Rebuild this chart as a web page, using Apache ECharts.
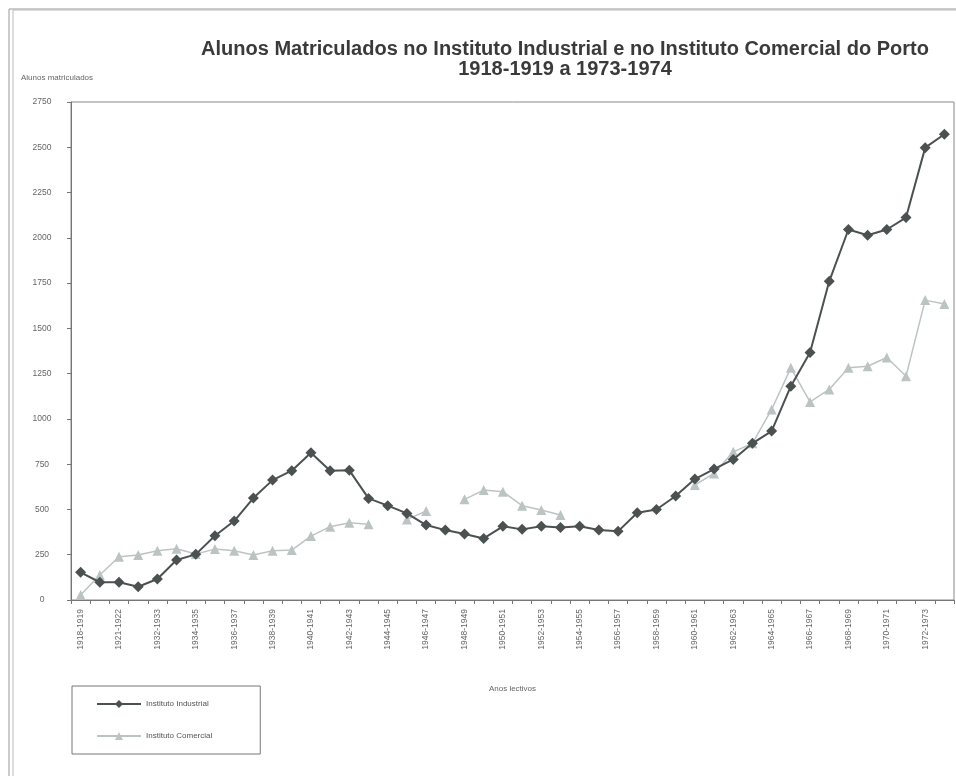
<!DOCTYPE html>
<html>
<head>
    <title>Alunos Matriculados</title>
    <meta charset="utf-8">
    <script src="https://cdn.jsdelivr.net/npm/echarts@6/dist/echarts.min.js"></script>
    <style>
        html, body { margin: 0; padding: 0; background: #fff; }
        #chart { width: 956px; height: 776px; }
    </style>
</head>
<body>
<div id="chart"></div>
<script>
// anos lectivos (so os pares aparecem no eixo)
var anos = [
    '1918-1919', '1919-1920', '1921-1922', '1931-1932', '1932-1933', '1933-1934',
    '1934-1935', '1935-1936', '1936-1937', '1937-1938', '1938-1939', '1939-1940',
    '1940-1941', '1941-1942', '1942-1943', '1943-1944', '1944-1945', '1945-1946',
    '1946-1947', '1947-1948', '1948-1949', '1949-1950', '1950-1951', '1951-1952',
    '1952-1953', '1953-1954', '1954-1955', '1955-1956', '1956-1957', '1957-1958',
    '1958-1959', '1959-1960', '1960-1961', '1961-1962', '1962-1963', '1963-1964',
    '1964-1965', '1965-1966', '1966-1967', '1967-1968', '1968-1969', '1969-1970',
    '1970-1971', '1971-1972', '1972-1973', '1973-1974'
];

var industrial = [
    153, 98, 98, 73, 116, 221, 252, 355, 436, 563, 662, 714,
    813, 714, 716, 561, 521, 478, 414, 386, 364, 340, 407, 390,
    407, 401, 407, 386, 379, 482, 500, 574, 668, 723, 776, 865,
    933, 1181, 1367, 1760, 2046, 2014, 2046, 2112, 2498, 2572
];

// valores em falta no original -> null
var comercial = [
    28, 138, 239, 248, 272, 283, 254, 281, 272, 248, 272, 276,
    353, 405, 427, 418, null, 445, 491, null, 556, 607, 598, 521,
    497, 469, null, null, null, null, null, null, 635, 699, 818, 865,
    1052, 1282, 1094, 1163, 1282, 1291, 1339, 1236, 1656, 1634
];

var myChart = echarts.init(document.getElementById('chart'));

var option = {
    backgroundColor: '#fff',
    animation: false,
    title: {
        text: 'Alunos Matriculados no Instituto Industrial e no Instituto Comercial do Porto\n1918-1919 a 1973-1974',
        left: 560,
        top: 34,
        textAlign: 'center',
        textStyle: {
            fontFamily: 'Liberation Sans',
            fontWeight: 'bold',
            fontSize: 20,
            lineHeight: 20,
            color: '#3a3a3a'
        }
    },
    graphic: [{
        type: 'rect',
        shape: { x: 9, y: 9, width: 960, height: 780 },
        style: { fill: null, stroke: '#999', lineWidth: 1 }
    }, {
        type: 'rect',
        shape: { x: 13, y: 10, width: 960, height: 780 },
        style: { fill: null, stroke: '#bbb', lineWidth: 1 }
    }, {
        type: 'rect',
        shape: { x: 71, y: 102, width: 883, height: 498 },
        style: { fill: null, stroke: '#888', lineWidth: 1 },
        z: 0
    }],
    legend: {
        orient: 'vertical',
        left: 72,
        top: 686,
        padding: [14, 48, 14, 24],
        itemGap: 24,
        itemWidth: 44,
        itemHeight: 10,
        borderColor: '#777',
        borderWidth: 1,
        textStyle: { fontFamily: 'Liberation Sans', fontSize: 8, color: '#555' },
        data: ['Instituto Industrial', 'Instituto Comercial']
    },
    grid: {
        left: 71,
        right: 2,
        top: 102,
        bottom: 176,
        containLabel: false
    },
    xAxis: {
        type: 'category',
        data: anos,
        boundaryGap: true,
        name: 'Anos lectivos',
        nameLocation: 'middle',
        nameGap: 85,
        nameTextStyle: { fontFamily: 'Liberation Sans', fontSize: 8, color: '#666' },
        axisLine: { lineStyle: { color: '#777' } },
        axisTick: { show: true, interval: 0, length: 4, lineStyle: { color: '#777' } },
        axisLabel: {
            interval: 1,
            rotate: 90,
            margin: 9,
            fontFamily: 'Liberation Sans',
            fontSize: 8.5,
            color: '#666'
        },
        splitLine: { show: false }
    },
    yAxis: {
        type: 'value',
        min: 0,
        max: 2750,
        interval: 250,
        name: 'Alunos matriculados',
        nameLocation: 'end',
        nameGap: 20,
        nameTextStyle: { fontFamily: 'Liberation Sans', fontSize: 8, color: '#666', align: 'left', padding: [0, 0, 0, -50] },
        axisLine: { show: true, lineStyle: { color: '#777' } },
        axisTick: { show: true, length: 4, lineStyle: { color: '#777' } },
        axisLabel: {
            margin: 29,
            fontFamily: 'Liberation Sans',
            fontSize: 8.5,
            color: '#666',
            align: 'center',
            formatter: function (v) { return String(v); }
        },
        splitLine: { show: false }
    },
    series: [{
        name: 'Instituto Industrial',
        type: 'line',
        data: industrial,
        symbol: 'diamond',
        symbolSize: 11,
        itemStyle: { color: '#4b5151' },
        lineStyle: { color: '#4b5151', width: 2 },
        z: 3
    }, {
        name: 'Instituto Comercial',
        type: 'line',
        data: comercial,
        connectNulls: false,
        symbol: 'triangle',
        symbolSize: 10,
        itemStyle: { color: '#bcc4c3' },
        lineStyle: { color: '#bcc4c3', width: 1.5 },
        z: 2
    }]
};

myChart.setOption(option);
</script>
</body>
</html>
